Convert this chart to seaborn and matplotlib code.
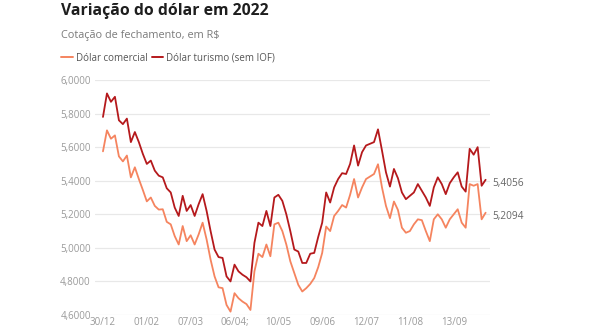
import numpy as np
import pandas as pd
import matplotlib
matplotlib.use("Agg")
import matplotlib.pyplot as plt
from matplotlib.lines import Line2D
import seaborn as sns

# ---- data ----
tick_labels = ["30/12", "01/02", "07/03", "06/04;", "10/05", "09/06", "12/07", "11/08", "13/09"]

dolar_turismo = [
    5.78, 5.92, 5.87, 5.90, 5.76, 5.737, 5.77, 5.63, 5.69, 5.63,
    5.56, 5.50, 5.52, 5.46, 5.43, 5.42, 5.355, 5.33, 5.24, 5.19,
    5.31, 5.22, 5.255, 5.19, 5.26, 5.32, 5.22, 5.10, 4.99, 4.945,
    4.94, 4.83, 4.80, 4.90, 4.86, 4.84, 4.825, 4.80, 5.03, 5.15,
    5.13, 5.22, 5.13, 5.30, 5.316, 5.28, 5.20, 5.10, 4.99, 4.978,
    4.91, 4.91, 4.965, 4.97, 5.065, 5.15, 5.33, 5.27, 5.36, 5.41,
    5.445, 5.44, 5.50, 5.61, 5.49, 5.57, 5.61, 5.62, 5.63, 5.706,
    5.58, 5.45, 5.365, 5.47, 5.415, 5.33, 5.29, 5.31, 5.33, 5.38,
    5.34, 5.30, 5.25, 5.36, 5.42, 5.38, 5.32, 5.385, 5.42, 5.45,
    5.365, 5.335, 5.59, 5.555, 5.60, 5.37, 5.4056,
]

dolar_comercial = [
    5.575, 5.70, 5.65, 5.67, 5.545, 5.515, 5.55, 5.42, 5.48, 5.41,
    5.345, 5.277, 5.30, 5.25, 5.228, 5.23, 5.155, 5.14, 5.07, 5.02,
    5.13, 5.04, 5.075, 5.02, 5.08, 5.15, 5.05, 4.93, 4.83, 4.765,
    4.76, 4.66, 4.62, 4.73, 4.70, 4.68, 4.665, 4.63, 4.86, 4.965,
    4.945, 5.02, 4.95, 5.14, 5.15, 5.10, 5.02, 4.92, 4.85, 4.78,
    4.74, 4.76, 4.785, 4.82, 4.885, 4.97, 5.127, 5.10, 5.19, 5.22,
    5.255, 5.24, 5.316, 5.41, 5.30, 5.36, 5.41, 5.425, 5.44, 5.498,
    5.36, 5.25, 5.177, 5.276, 5.226, 5.12, 5.09, 5.10, 5.14, 5.17,
    5.165, 5.10, 5.04, 5.17, 5.20, 5.17, 5.12, 5.17, 5.20, 5.23,
    5.15, 5.12, 5.38, 5.37, 5.38, 5.17, 5.2094,
]

series_names = ["Dólar comercial", "Dólar turismo (sem IOF)"]
y_ticks = [4.6, 4.8, 5.0, 5.2, 5.4, 5.6, 5.8, 6.0]

# ---- styling ----
sns.set_style("white")
plt.rcParams["font.family"] = ["Open Sans", "DejaVu Sans"]

colors = {series_names[0]: "#F5845F", series_names[1]: "#B5191C"}

n = len(dolar_turismo)
df = pd.DataFrame({
    "idx": list(range(n)) * 2,
    "valor": dolar_comercial + dolar_turismo,
    "serie": [series_names[0]] * n + [series_names[1]] * n,
})

fig = plt.figure(figsize=(5.9, 3.3), dpi=100)
ax = fig.add_axes([95 / 590, 1 - 315 / 330, (490 - 95) / 590, (315 - 80) / 330])

sns.lineplot(data=df, x="idx", y="valor", hue="serie", palette=colors,
             linewidth=1.3, legend=False, ax=ax, zorder=3)

ax.set_xlim(-2.0, n - 1 + 1.1)
ax.set_ylim(4.6, 6.0)
ax.set_yticks(y_ticks)
ax.set_yticklabels([f"{v:.4f}".replace(".", ",") for v in y_ticks])
ax.set_xticks(list(range(0, n, 11))[:len(tick_labels)])
ax.set_xticklabels(tick_labels)
ax.set_xlabel("")
ax.set_ylabel("")
ax.grid(axis="y", color="#e8e8e8", linewidth=0.9, zorder=0)
ax.grid(axis="x", visible=False)
for s in ax.spines.values():
    s.set_visible(False)
ax.tick_params(axis="both", length=0, labelsize=7, labelcolor="#9a9a9a")
ax.tick_params(axis="y", pad=3)
ax.tick_params(axis="x", pad=1.5)

# end labels
for vals in (dolar_turismo, dolar_comercial):
    ax.annotate(f"{vals[-1]:.4f}".replace(".", ","), xy=(n - 1, vals[-1]),
                xytext=(5, -2.5), textcoords="offset points",
                va="center", ha="left", fontsize=7.3, color="#666666",
                annotation_clip=False)

# title, subtitle, legend
fig.text(61 / 590, 1 - 15 / 330, "Variação do dólar em 2022", fontsize=11.3,
         fontweight="bold", color="#1e1e1e", va="baseline", ha="left")
fig.text(61 / 590, 1 - 37.7 / 330, "Cotação de fechamento, em R$", fontsize=7.8,
         color="#7a7a7a", va="baseline", ha="left")

leg_y = 1 - 56.7 / 330
fig.add_artist(Line2D([61 / 590, 73 / 590], [leg_y, leg_y], color=colors[series_names[0]],
                      linewidth=1.4, transform=fig.transFigure))
fig.text(76 / 590, 1 - 61 / 330, series_names[0], fontsize=7, color="#555555",
         va="baseline", ha="left")
fig.add_artist(Line2D([152 / 590, 163 / 590], [leg_y, leg_y], color=colors[series_names[1]],
                      linewidth=1.4, transform=fig.transFigure))
fig.text(166 / 590, 1 - 61 / 330, series_names[1], fontsize=7, color="#555555",
         va="baseline", ha="left")

fig.savefig("out.png", dpi=100, facecolor="white")
